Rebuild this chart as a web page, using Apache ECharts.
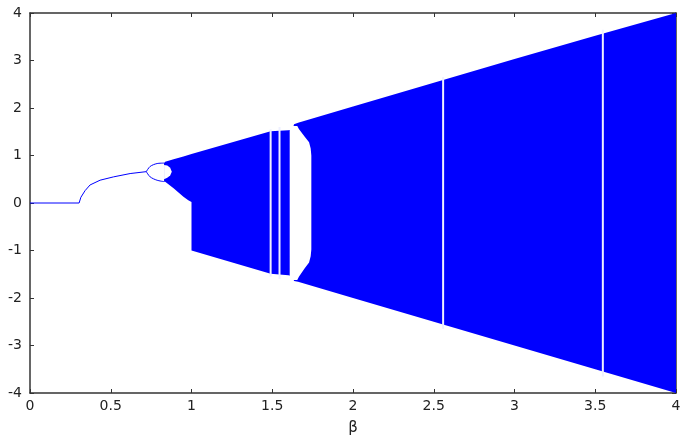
<!DOCTYPE html>
<html>
<head>
<meta charset="utf-8">
<script src="https://cdn.jsdelivr.net/npm/echarts@6/dist/echarts.min.js"></script>
<style>
  html, body { margin: 0; padding: 0; background: #fff; }
  #chart { width: 685px; height: 442px; }
</style>
</head>
<body>
<div id="chart"></div>
<script>
// fixed point branch
const fixedBeta = [0, 0.304, 0.315, 0.341, 0.372, 0.434, 0.517, 0.62, 0.72]
const fixedY = [0, 0, 0.12, 0.26, 0.38, 0.48, 0.55, 0.62, 0.66]

// period-2 branches
const p2Beta = [0.72, 0.744, 0.786, 0.83]
const p2Upper = [0.66, 0.77, 0.83, 0.84]
const p2Lower = [0.66, 0.55, 0.48, 0.45]

// chaotic band envelope
const bandBeta = [0.83, 0.837, 0.889, 0.95, 0.98, 1.0, 1.0, 1.49, 1.6, 1.625, 1.635, 1.66, 2.0, 2.5, 3.0, 3.5, 4.0]
const bandUpper = [0.84, 0.87, 0.92, 0.98, 1.01, 1.03, 1.03, 1.51, 1.53, 1.55, 1.66, 1.69, 2.03, 2.53, 3.03, 3.52, 4.0]
const bandLower = [0.45, 0.45, 0.31, 0.13, 0.06, 0.02, -1.0, -1.49, -1.52, -1.54, -1.64, -1.66, -2.0, -2.5, -3.0, -3.5, -4.0]

// white hole left inside the band by the period-2 bubble
const holeBeta = [0.83, 0.85, 0.868, 0.878]
const holeUpper = [0.80, 0.79, 0.74, 0.66]
const holeLower = [0.50, 0.53, 0.58, 0.66]

// periodic window near beta = 1.65
const winBeta = [1.608, 1.655, 1.665, 1.70, 1.728, 1.738, 1.742]
const winUpper = [1.62, 1.62, 1.56, 1.40, 1.28, 1.15, 1.0]
const winLower = [-1.62, -1.62, -1.55, -1.38, -1.25, -1.12, -0.98]

// thin periodic windows (white vertical lines)
const gapBeta = [1.49, 1.545, 2.558, 3.547]
const gapHalf = [1.55, 1.6, 2.65, 3.65]

const xTicks = { min: 0, max: 4, interval: 0.5 }
const yTicks = { min: -4, max: 4, interval: 1 }

const blue = '#0000ff'
const axisColor = '#333'
const font = 'DejaVu Sans'

function pairs(xs, ys) {
    return xs.map((x, i) => [x, ys[i]])
}

// closed polygon: upper edge left->right, lower edge right->left
function polygonSeries(xs, up, low, fill) {
    const pts = pairs(xs, up).concat(pairs(xs, low).reverse())
    return {
        type: 'custom',
        clip: true,
        silent: true,
        data: [[xs[0], up[0]]],
        renderItem: (params, api) => ({
            type: 'polygon',
            shape: { points: pts.map(p => api.coord(p)) },
            style: { fill: fill }
        })
    }
}

const chart = echarts.init(document.getElementById('chart'), null, { renderer: 'canvas' })

const edgeAxis = {
    axisLine: { show: true, onZero: false, lineStyle: { color: axisColor, width: 1.5 } },
    axisTick: { show: true, inside: true, length: 4, lineStyle: { color: axisColor } },
    splitLine: { show: false }
}

const option = {
    animation: false,
    backgroundColor: '#fff',
    grid: { left: 30, right: 9, top: 13, bottom: 49 },
    xAxis: [
        {
            type: 'value', position: 'bottom', ...xTicks, ...edgeAxis,
            name: 'β', nameLocation: 'middle', nameGap: 28,
            nameTextStyle: { color: '#222', fontFamily: font, fontSize: 15 },
            axisLabel: { color: '#222', fontFamily: font, fontSize: 14, margin: 6 }
        },
        { type: 'value', position: 'top', ...xTicks, ...edgeAxis, axisLabel: { show: false } }
    ],
    yAxis: [
        {
            type: 'value', position: 'left', ...yTicks, ...edgeAxis,
            axisLabel: { color: '#222', fontFamily: font, fontSize: 14, margin: 8 }
        },
        { type: 'value', position: 'right', ...yTicks, ...edgeAxis, axisLabel: { show: false } }
    ],
    series: [
        polygonSeries(bandBeta, bandUpper, bandLower, blue),
        polygonSeries(holeBeta, holeUpper, holeLower, '#fff'),
        polygonSeries(winBeta, winUpper, winLower, '#fff'),
        {
            type: 'custom',
            clip: true,
            silent: true,
            data: pairs(gapBeta, gapHalf),
            renderItem: (params, api) => {
                const b = api.value(0), h = api.value(1)
                const p1 = api.coord([b, -h]), p2 = api.coord([b, h])
                return {
                    type: 'line',
                    shape: { x1: p1[0], y1: p1[1], x2: p2[0], y2: p2[1] },
                    style: { stroke: '#eef0ff', lineWidth: 2 }
                }
            }
        },
        {
            type: 'line', data: pairs(fixedBeta, fixedY), symbol: 'none',
            lineStyle: { color: blue, width: 1 }, silent: true
        },
        {
            type: 'line', data: pairs(p2Beta, p2Upper), symbol: 'none', smooth: 0.3,
            lineStyle: { color: blue, width: 1 }, silent: true
        },
        {
            type: 'line', data: pairs(p2Beta, p2Lower), symbol: 'none', smooth: 0.3,
            lineStyle: { color: blue, width: 1 }, silent: true
        }
    ]
}

chart.setOption(option)
</script>
</body>
</html>
